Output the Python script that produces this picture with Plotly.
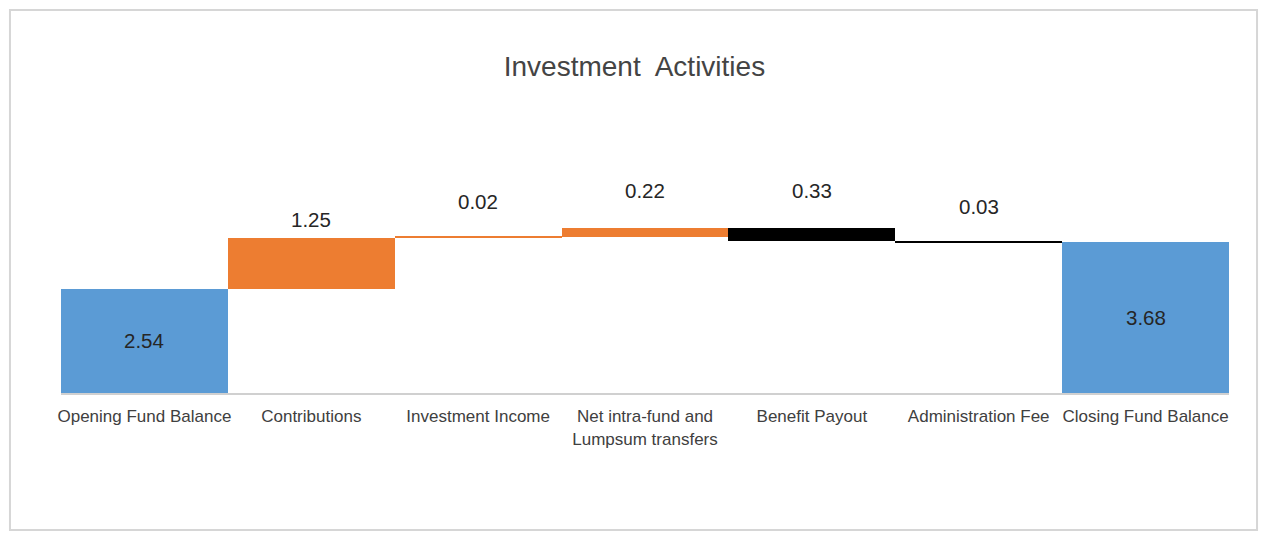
import plotly.graph_objects as go

# Fund movements for the period (in millions)
categories = [
    "Opening Fund Balance",
    "Contributions",
    "Investment Income",
    "Net intra-fund and<br>Lumpsum transfers",
    "Benefit Payout",
    "Administration Fee",
    "Closing Fund Balance",
]
values = [2.54, 1.25, 0.02, 0.22, -0.33, -0.03, 3.68]
measures = ["absolute", "relative", "relative", "relative", "relative", "relative", "absolute"]
labels = ["2.54", "1.25", "0.02", "0.22", "0.33", "0.03", "3.68"]
label_offsets = [0, 18, 35, 37, 37, 35, 0]

BLUE = "#5b9bd5"
ORANGE = "#ed7d31"
BLACK = "#000000"
TEXT = "#404040"

fig = go.Figure(
    go.Waterfall(
        x=categories,
        y=values,
        measure=measures,
        increasing=dict(marker=dict(color=ORANGE)),
        decreasing=dict(marker=dict(color=BLACK)),
        totals=dict(marker=dict(color=BLUE)),
        connector=dict(visible=False),
        textinfo="none",
        hoverinfo="x+y",
    )
)

# value labels: inside the balance bars, above the movement bars
running = 0.0
for cat, val, meas, lab, off in zip(categories, values, measures, labels, label_offsets):
    if meas == "absolute":
        running = val
        fig.add_annotation(x=cat, y=val / 2, text=lab, showarrow=False,
                           font=dict(size=20.5, color="#262626"))
    else:
        top = max(running, running + val)
        running += val
        fig.add_annotation(x=cat, y=top, text=lab, showarrow=False,
                           yshift=off, font=dict(size=20.5, color="#262626"))

# light frame around the whole chart
fig.add_shape(type="rect", xref="paper", yref="paper",
              x0=-0.0437, x1=1.024, y0=-0.539, y1=1.508,
              line=dict(color="#d6d6d6", width=2), layer="below")

fig.update_layout(
    width=1274,
    height=537,
    margin=dict(l=61, r=45, t=139, b=144),
    paper_bgcolor="white",
    plot_bgcolor="white",
    font=dict(family="Liberation Sans, Arial, sans-serif", color=TEXT),
    title=dict(text="Investment  Activities", x=0.498, xanchor="center",
               y=0.877, yanchor="middle",
               font=dict(size=28, color="#444444")),
    showlegend=False,
    waterfallgap=0,
    xaxis=dict(showgrid=False, showline=True, linecolor="#d0d0d0", linewidth=2,
               ticks="", ticklabelstandoff=7,
               tickfont=dict(size=17, color=TEXT), fixedrange=True),
    yaxis=dict(range=[0, 6.2], visible=False, showgrid=False, zeroline=False),
)

fig.write_html("out.html")
